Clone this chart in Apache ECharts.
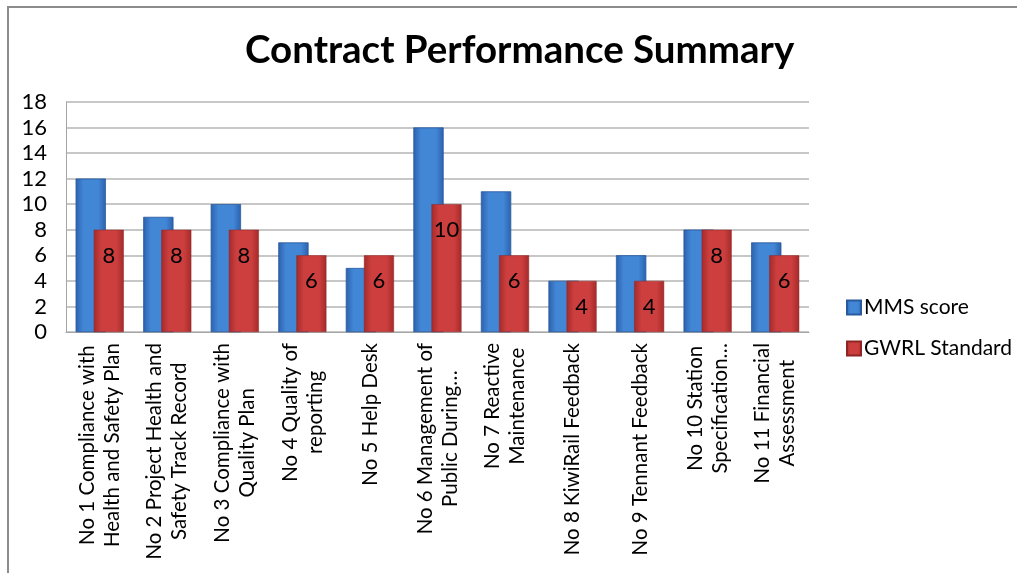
<!DOCTYPE html>
<html>
<head>
<meta charset="utf-8">
<script src="https://cdn.jsdelivr.net/npm/echarts@6/dist/echarts.min.js"></script>
<style>
  html, body { margin: 0; padding: 0; background: #fff; }
  #chart { width: 1017px; height: 573px; }
</style>
</head>
<body>
<div id="chart"></div>
<script>
  // categories and values
  const categories = [
    'No 1 Compliance with\nHealth and Safety Plan',
    'No 2 Project Health and\nSafety Track Record',
    'No 3 Compliance with\nQuality Plan',
    'No 4 Quality of\nreporting',
    'No 5 Help Desk',
    'No 6 Management of\nPublic During…',
    'No 7 Reactive\nMaintenance',
    'No 8 KiwiRail Feedback',
    'No 9 Tennant Feedback',
    'No 10 Station\nSpecification…',
    'No 11 Financial\nAssessment'
  ]
  const mmsScore = [12, 9, 10, 7, 5, 16, 11, 4, 6, 8, 7]
  const gwrlStandard = [8, 8, 8, 6, 6, 10, 6, 4, 4, 8, 6]
  const yTicks = {min: 0, max: 18, interval: 2}

  const FONT = 'Lato, "Open Sans", sans-serif'
  const LABEL_SIZE = 20.5
  const LABEL_LINE = 25
  const LABEL_MARGIN = 11

  const measureCtx = document.createElement('canvas').getContext('2d')
  measureCtx.font = LABEL_SIZE + 'px ' + FONT
  function textW(s) {
    return measureCtx.measureText(s).width
  }

  function barGradient(edge, mid) {
    return new echarts.graphic.LinearGradient(0, 0, 1, 0, [
      {offset: 0, color: edge},
      {offset: 0.25, color: mid},
      {offset: 0.75, color: mid},
      {offset: 1, color: edge}
    ])
  }

  const border = {
    type: 'polyline',
    shape: {points: [[8, 573], [8, 7], [1017, 7]]},
    style: {stroke: '#8c8c8c', lineWidth: 2, fill: null}
  }

  let myChart = echarts.init(document.getElementById('chart'))
  myChart.setOption({
    backgroundColor: '#fff',
    animation: false,
    title: {
      text: 'Contract Performance Summary',
      left: 240,
      top: 26,
      textStyle: {
        fontFamily: FONT,
        fontWeight: 'bold',
        fontSize: 38.5,
        color: '#000'
      }
    },
    graphic: [border],
    legend: {
      orient: 'vertical',
      left: 846,
      top: 297,
      padding: 0,
      itemWidth: 14,
      itemHeight: 14,
      itemGap: 20,
      icon: 'rect',
      textStyle: {
        fontFamily: FONT,
        fontSize: 21,
        color: '#000',
        padding: [0, 0, 0, -2]
      },
      data: ['MMS score', 'GWRL Standard']
    },
    grid: {
      left: 66,
      right: 208,
      top: 102,
      bottom: 241,
      containLabel: false
    },
    xAxis: {
      type: 'category',
      data: categories,
      axisTick: {show: false},
      axisLine: {
        lineStyle: {color: '#a6a6a6', width: 1}
      },
      // drawn below as centred, wrapped vertical text
      axisLabel: {show: false}
    },
    yAxis: {
      type: 'value',
      min: yTicks.min,
      max: yTicks.max,
      interval: yTicks.interval,
      axisLine: {
        show: true,
        lineStyle: {color: '#a6a6a6', width: 1}
      },
      axisTick: {show: false},
      splitLine: {
        lineStyle: {color: '#b4b4b4', width: 1.5}
      },
      axisLabel: {
        margin: 19,
        fontFamily: FONT,
        fontSize: 22,
        color: '#000'
      }
    },
    series: [
      {
        name: 'MMS score',
        type: 'bar',
        data: mmsScore,
        barWidth: 30,
        barGap: '-40%',
        color: '#3c7bcc',
        itemStyle: {
          color: barGradient('#2c62ad', '#4286d6'),
          borderColor: '#2a5a9e',
          borderWidth: 0.5
        }
      },
      {
        name: 'GWRL Standard',
        type: 'bar',
        data: gwrlStandard,
        barWidth: 30,
        color: '#c23b3b',
        itemStyle: {
          color: barGradient('#a42a2a', '#cc3f3e'),
          borderColor: '#8e2424',
          borderWidth: 0.5
        },
        label: {
          show: true,
          position: 'insideTop',
          distance: 15,
          fontFamily: FONT,
          fontSize: 22,
          color: '#000'
        }
      }
    ]
  })

  // category labels: rotated 90deg, lines centred on each other, block ending at the axis
  function placeCategoryLabels() {
    let axisY = myChart.convertToPixel({yAxisIndex: 0}, yTicks.min)
    let elements = [border]
    categories.forEach(function (cat, ci) {
      let cx = myChart.convertToPixel({xAxisIndex: 0}, ci)
      let lines = cat.split('\n')
      let maxW = Math.max.apply(null, lines.map(textW))
      lines.forEach(function (line, li) {
        elements.push({
          type: 'text',
          x: cx + (li - (lines.length - 1) / 2) * LABEL_LINE,
          y: axisY + LABEL_MARGIN + maxW / 2,
          rotation: Math.PI / 2,
          style: {
            text: line,
            fontFamily: FONT,
            fontSize: LABEL_SIZE,
            fill: '#000',
            align: 'center',
            verticalAlign: 'middle'
          }
        })
      })
    })
    myChart.setOption({graphic: elements}, {replaceMerge: ['graphic']})
  }
  placeCategoryLabels()
</script>
</body>
</html>
